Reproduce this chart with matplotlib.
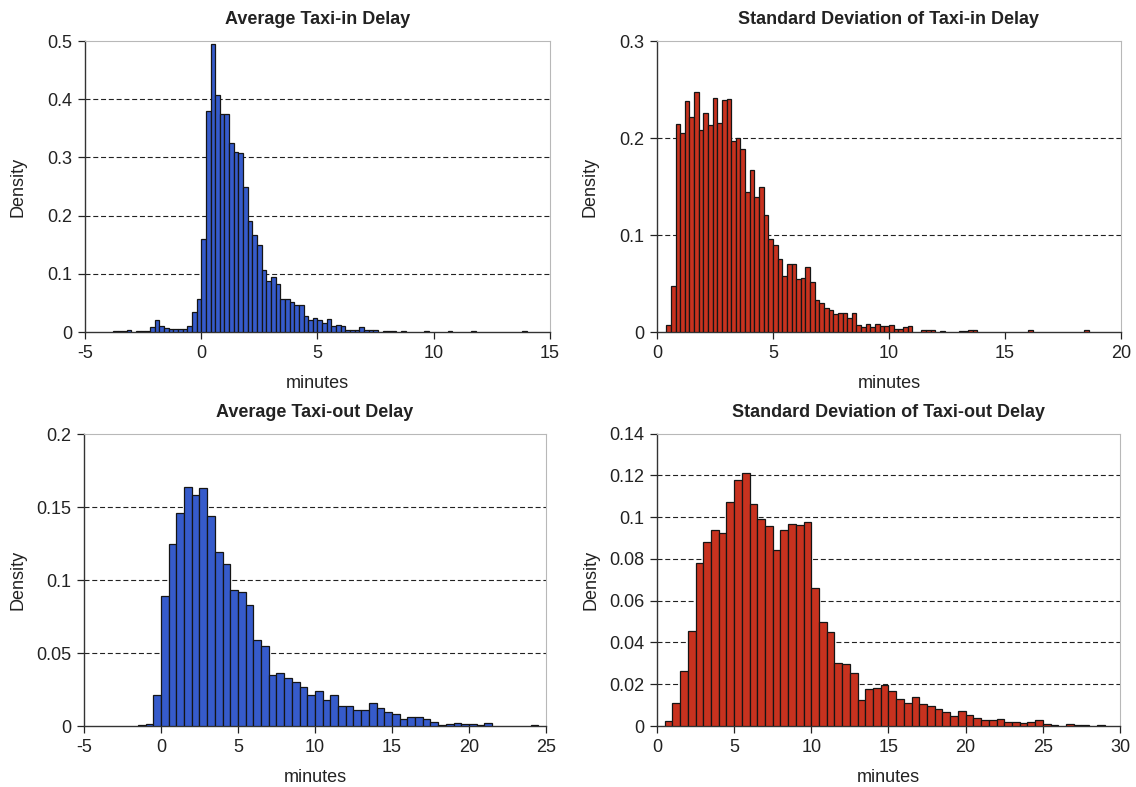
import numpy as np
import matplotlib
matplotlib.use("Agg")
import matplotlib.pyplot as plt
from matplotlib.ticker import FuncFormatter

plt.rcParams['font.family'] = ['Liberation Sans', 'DejaVu Sans']

# densities, one value per bin
taxi_in_mean_start = -4.0
taxi_in_mean_width = 0.2
taxi_in_mean = [
    0, 0.001, 0.001, 0.001, 0.004, 0, 0.002, 0.002, 0.002, 0.008,
    0.02, 0.01, 0.007, 0.006, 0.006, 0.006, 0.006, 0.011, 0.034, 0.057,
    0.159, 0.38, 0.495, 0.407, 0.374, 0.374, 0.325, 0.309, 0.307, 0.249,
    0.191, 0.166, 0.149, 0.106, 0.087, 0.094, 0.083, 0.057, 0.057, 0.051,
    0.047, 0.046, 0.027, 0.021, 0.024, 0.02, 0.016, 0.023, 0.01, 0.012,
    0.011, 0.004, 0.004, 0.003, 0.008, 0.003, 0.003, 0.004, 0, 0.002,
    0.002, 0.002, 0, 0.002, 0, 0, 0, 0, 0.001, 0,
    0, 0, 0, 0.001, 0, 0, 0, 0, 0.001, 0,
    0, 0, 0, 0, 0, 0, 0, 0, 0, 0.001,
]

taxi_in_std_start = 0.4
taxi_in_std_width = 0.2
taxi_in_std = [
    0.007, 0.047, 0.214, 0.205, 0.238, 0.222, 0.247, 0.208, 0.226, 0.213,
    0.241, 0.215, 0.239, 0.24, 0.197, 0.2, 0.189, 0.144, 0.167, 0.139,
    0.15, 0.121, 0.096, 0.09, 0.075, 0.058, 0.07, 0.07, 0.055, 0.056,
    0.067, 0.052, 0.033, 0.03, 0.025, 0.023, 0.019, 0.02, 0.02, 0.014,
    0.02, 0.007, 0.005, 0.008, 0.005, 0.008, 0.006, 0.006, 0.007, 0.003,
    0.003, 0.005, 0.006, 0, 0, 0.002, 0.002, 0.002, 0, 0.001,
    0, 0, 0, 0.001, 0.001, 0.002, 0.002, 0, 0, 0,
    0, 0, 0, 0, 0, 0, 0, 0, 0.002, 0,
    0, 0, 0, 0, 0, 0, 0, 0, 0, 0,
    0.002,
]

taxi_out_mean_start = -1.5
taxi_out_mean_width = 0.5
taxi_out_mean = [
    0.001, 0.0015, 0.021, 0.089, 0.125, 0.146, 0.164, 0.158, 0.163, 0.144,
    0.119, 0.111, 0.093, 0.092, 0.083, 0.059, 0.055, 0.035, 0.036, 0.033,
    0.03, 0.027, 0.021, 0.024, 0.0175, 0.021, 0.014, 0.0135, 0.011, 0.011,
    0.0155, 0.012, 0.0094, 0.0085, 0.0045, 0.0063, 0.0063, 0.005, 0.0027, 0.001,
    0.0012, 0.002, 0.0012, 0.0016, 0.0004, 0.0018, 0, 0, 0, 0,
    0, 0.001,
]

taxi_out_std_start = 0.5
taxi_out_std_width = 0.5
taxi_out_std = [
    0.0024, 0.011, 0.0265, 0.0456, 0.078, 0.088, 0.094, 0.0926, 0.1074, 0.1178,
    0.121, 0.1061, 0.099, 0.096, 0.0843, 0.0939, 0.0967, 0.0962, 0.0975, 0.0659,
    0.05, 0.045, 0.0303, 0.0297, 0.0252, 0.0124, 0.0177, 0.018, 0.0196, 0.0167,
    0.0131, 0.011, 0.0139, 0.0107, 0.0096, 0.0083, 0.0067, 0.0046, 0.007, 0.0051,
    0.0038, 0.003, 0.0027, 0.0033, 0.0019, 0.0019, 0.0013, 0.002, 0.0029, 0.0011,
    0.0005, 0, 0.001, 0.0006, 0.0006, 0, 0.0005,
]

titles = ["Average Taxi-in Delay", "Standard Deviation of Taxi-in Delay",
          "Average Taxi-out Delay", "Standard Deviation of Taxi-out Delay"]

BLUE = '#365bcb'
RED = '#c8321f'

fig = plt.figure(figsize=(11.36, 7.87), dpi=100)


def fmt(v, pos):
    return '%g' % round(v, 4)


def draw_hist(rect, start, width, values, color, title, xlim, xstep, ylim, ystep):
    ax = fig.add_axes(rect)
    vals = np.array(values, dtype=float)
    lefts = start + width * np.arange(len(vals))
    keep = vals > 0
    ax.bar(lefts[keep], vals[keep], width=width, align='edge', color=color,
           edgecolor='#151515', linewidth=0.9, zorder=3)
    ax.set_xlim(*xlim)
    ax.set_ylim(*ylim)
    ax.set_xticks(np.arange(xlim[0], xlim[1] + xstep / 2, xstep))
    yt = np.arange(ylim[0], ylim[1] + ystep / 2, ystep)
    ax.set_yticks(yt)
    ax.xaxis.set_major_formatter(FuncFormatter(fmt))
    ax.yaxis.set_major_formatter(FuncFormatter(fmt))
    for y in yt[1:-1]:
        ax.axhline(y, color='#222222', linestyle=(0, (4.5, 2.5)), linewidth=0.8, zorder=1)
    ax.tick_params(direction='out', length=5, width=0.9, labelsize=13,
                   colors='#222222', pad=4)
    for s in ('top', 'right'):
        ax.spines[s].set_color('#b8b8b8')
        ax.spines[s].set_linewidth(0.8)
    for s in ('left', 'bottom'):
        ax.spines[s].set_color('#333333')
        ax.spines[s].set_linewidth(1.0)
    ax.set_xlabel('minutes', fontsize=13, color='#222222', labelpad=10)
    ax.set_ylabel('Density', fontsize=13, color='#222222')
    ax.yaxis.set_label_coords(-0.125, 0.5)
    ax.set_title(title, fontsize=13, fontweight='bold', color='#222222', pad=12)
    return ax


draw_hist([0.0748, 0.5781, 0.4093, 0.3698], taxi_in_mean_start, taxi_in_mean_width,
          taxi_in_mean, BLUE, titles[0], (-5, 15), 5, (0, 0.5), 0.1)
draw_hist([0.5783, 0.5781, 0.4085, 0.3698], taxi_in_std_start, taxi_in_std_width,
          taxi_in_std, RED, titles[1], (0, 20), 5, (0, 0.3), 0.1)
draw_hist([0.0739, 0.0775, 0.4067, 0.3710], taxi_out_mean_start, taxi_out_mean_width,
          taxi_out_mean, BLUE, titles[2], (-5, 25), 5, (0, 0.2), 0.05)
draw_hist([0.5783, 0.0775, 0.4076, 0.3715], taxi_out_std_start, taxi_out_std_width,
          taxi_out_std, RED, titles[3], (0, 30), 5, (0, 0.14), 0.02)

fig.savefig('out.png', dpi=100)
